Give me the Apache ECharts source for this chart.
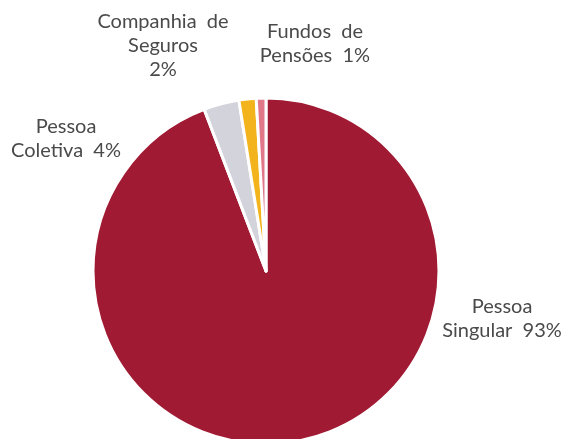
<!DOCTYPE html>
<html>
<head>
<meta charset="utf-8">
<script src="https://cdn.jsdelivr.net/npm/echarts@6/dist/echarts.min.js"></script>
<style>
  html, body { margin: 0; padding: 0; background: #ffffff; }
  #chart { width: 564px; height: 439px; }
</style>
</head>
<body>
<div id="chart"></div>
<script>
// Categories, in clockwise order from 12 o'clock
const categories = ['Pessoa Singular', 'Pessoa Coletiva', 'Companhia de Seguros', 'Fundos de Pensões'];
// Slice shares
const shares = [94.0, 3.3, 1.6, 0.9];
// Percent labels printed on the chart
const printedLabels = ['93%', '4%', '2%', '1%'];
// Line breaks of label text as printed
const labelText = [
  'Pessoa\nSingular  93%',
  'Pessoa\nColetiva  4%',
  'Companhia  de\nSeguros\n2%',
  'Fundos  de\nPensões  1%'
];

const colors = ['#A11A33', '#D3D3DC', '#F3B31C', '#E0788A'];
const labelPos = [
  { x: 502, y: 319 },
  { x: 66, y: 139 },
  { x: 163, y: 46 },
  { x: 315, y: 44 }
];

const chart = echarts.init(document.getElementById('chart'), null, { renderer: 'canvas' });
chart.setOption({
  backgroundColor: '#ffffff',
  animation: false,
  series: [{
    type: 'pie',
    center: [266, 271],
    radius: 173,
    startAngle: 90,
    clockwise: true,
    avoidLabelOverlap: false,
    data: categories.map((c, i) => ({
      name: c,
      value: shares[i],
      itemStyle: { color: colors[i] }
    })),
    itemStyle: { borderColor: '#ffffff', borderWidth: 3 },
    label: {
      show: true,
      position: 'outside',
      formatter: p => labelText[p.dataIndex],
      fontFamily: 'Lato',
      fontSize: 20,
      lineHeight: 24,
      color: '#4a4a4a',
      align: 'center'
    },
    labelLine: { show: false },
    labelLayout: params => ({
      x: labelPos[params.dataIndex].x,
      y: labelPos[params.dataIndex].y,
      align: 'center',
      verticalAlign: 'middle',
      hideOverlap: false
    }),
    emphasis: { disabled: true }
  }]
});
</script>
</body>
</html>
